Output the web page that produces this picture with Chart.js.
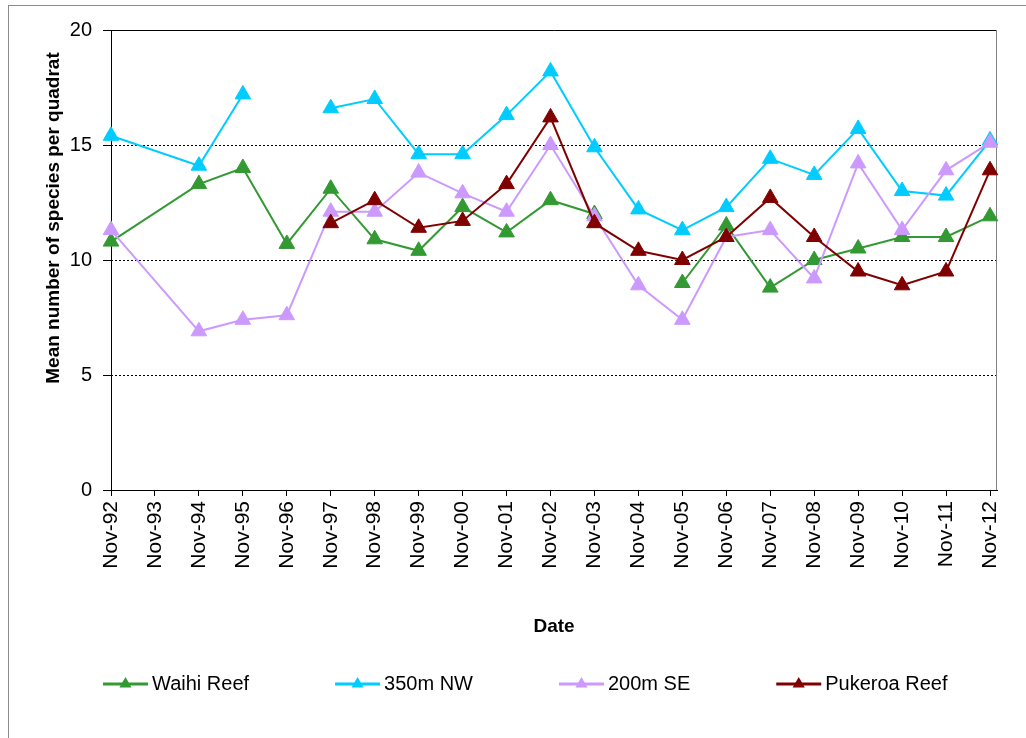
<!DOCTYPE html>
<html>
<head>
<meta charset="utf-8">
<script src="https://cdn.jsdelivr.net/npm/chart.js@4.4.1/dist/chart.umd.min.js"></script>
<style>
  html, body { margin: 0; padding: 0; background: #fff; }
  #wrap { width: 1026px; height: 738px; position: relative; }
</style>
</head>
<body>
<div id="wrap"><canvas id="myChart"></canvas></div>
<script>
const labels = ["Nov-92", "Nov-93", "Nov-94", "Nov-95", "Nov-96", "Nov-97", "Nov-98",
  "Nov-99", "Nov-00", "Nov-01", "Nov-02", "Nov-03", "Nov-04", "Nov-05", "Nov-06",
  "Nov-07", "Nov-08", "Nov-09", "Nov-10", "Nov-11", "Nov-12"];
// no survey that year, so the lines run straight through it
const notSurveyed = ["Nov-93"];

const waihi = [10.8, null, 13.3, 14.0, 10.7, 13.1, 10.9, 10.4, 12.3, 11.2, 12.6, 12.0, null, 9.0, 11.5, 8.8, 10.0, 10.5, 11.0, 11.0, 11.9];
const nw350 = [15.4, null, 14.1, 17.2, null, 16.6, 17.0, 14.6, 14.6, 16.3, 18.2, 14.9, 12.2, 11.3, 12.3, 14.4, 13.7, 15.7, 13.0, 12.8, 15.2];
const se200 = [11.3, null, 6.9, 7.4, 7.6, 12.1, 12.1, 13.8, 12.9, 12.1, 15.0, 11.9, 8.9, 7.4, 11.0, 11.3, 9.2, 14.2, 11.3, 13.9, 15.1];
const pukeroa = [null, null, null, null, null, 11.6, 12.6, 11.4, 11.7, 13.3, 16.2, 11.6, 10.4, 10.0, 11.0, 12.7, 11.0, 9.5, 8.9, 9.5, 13.9];

const yTicks = [0, 5, 10, 15, 20];

function points(vals) {
  return labels.map((l, i) => ({ x: i, y: vals[i] }))
    .filter(p => !notSurveyed.includes(labels[p.x]));
}

function series(label, vals, color, order) {
  return {
    label: label,
    data: points(vals),
    borderColor: color,
    backgroundColor: color,
    borderWidth: 2,
    pointStyle: "triangle",
    pointRadius: 9,
    pointBorderWidth: 1,
    pointHoverRadius: 9,
    spanGaps: false,
    clip: false,
    order: order
  };
}

const FONT = "'Liberation Sans', Arial, sans-serif";
Chart.defaults.font.family = FONT;
Chart.defaults.color = "#000";

// frame, y title and the Excel-style legend
const frame = {
  id: "frame",
  beforeDatasetsDraw(chart) {
    const { ctx, chartArea: a } = chart;
    ctx.save();
    ctx.lineWidth = 1;
    ctx.strokeStyle = "#000";
    ctx.beginPath();
    ctx.moveTo(Math.round(a.left) + 0.5, a.bottom);
    ctx.lineTo(Math.round(a.left) + 0.5, Math.round(a.top) + 0.5);
    ctx.lineTo(a.right, Math.round(a.top) + 0.5);
    ctx.stroke();
    ctx.strokeStyle = "#808080";
    ctx.beginPath();
    ctx.moveTo(Math.round(a.right) - 0.5, a.top);
    ctx.lineTo(Math.round(a.right) - 0.5, a.bottom);
    ctx.stroke();
    ctx.restore();
  },
  afterDraw(chart) {
    const ctx = chart.ctx;
    ctx.save();
    ctx.strokeStyle = "#8c8c8c";
    ctx.lineWidth = 1;
    ctx.strokeRect(8.5, 5.5, chart.width, chart.height);

    ctx.fillStyle = "#000";
    ctx.font = "bold 19px " + FONT;
    ctx.textAlign = "center";
    ctx.textBaseline = "middle";
    ctx.translate(54, 218);
    ctx.rotate(-Math.PI / 2);
    ctx.fillText("Mean number of species per quadrat", 0, 0);
    ctx.restore();

    ctx.save();
    ctx.font = "20px " + FONT;
    ctx.textBaseline = "middle";
    let x = 103;
    const y = 684;
    chart.data.datasets.forEach(ds => {
      ctx.strokeStyle = ds.borderColor;
      ctx.fillStyle = ds.borderColor;
      ctx.lineWidth = 3;
      ctx.beginPath();
      ctx.moveTo(x, y);
      ctx.lineTo(x + 45, y);
      ctx.stroke();
      const cx = x + 22.5, r = 7;
      ctx.beginPath();
      ctx.moveTo(cx, y - r);
      ctx.lineTo(cx + r * 0.866, y + r * 0.5);
      ctx.lineTo(cx - r * 0.866, y + r * 0.5);
      ctx.closePath();
      ctx.fill();
      ctx.fillStyle = "#000";
      ctx.fillText(ds.label, x + 49, y);
      x += 49 + ctx.measureText(ds.label).width + 86;
    });
    ctx.restore();
  }
};

const ctx = document.getElementById("myChart").getContext("2d");

new Chart(ctx, {
  type: "line",
  data: {
    datasets: [
      series("Waihi Reef", waihi, "#339933", 3),
      series("350m NW", nw350, "#00ccff", 2),
      series("200m SE", se200, "#cc99ff", 1),
      series("Pukeroa Reef", pukeroa, "#800000", 0)
    ]
  },
  options: {
    responsive: true,
    maintainAspectRatio: false,
    animation: false,
    layout: { padding: { left: 0, top: 30, right: 29, bottom: 98 } },
    plugins: {
      legend: { display: false },
      tooltip: { enabled: false }
    },
    scales: {
      x: {
        type: "linear",
        min: 0,
        max: 20 + 7 / 44,
        afterFit: s => { s.height = 150; },
        ticks: {
          stepSize: 1,
          includeBounds: false,
          autoSkip: false,
          minRotation: 90,
          maxRotation: 90,
          padding: 5,
          font: { size: 21 },
          callback: v => labels[v]
        },
        grid: { drawOnChartArea: false, tickLength: 6, tickColor: "#000" },
        border: { color: "#000" },
        title: {
          display: true,
          text: "Date",
          font: { size: 19, weight: "bold" },
          padding: { top: 0, bottom: 2 }
        }
      },
      y: {
        min: 0,
        max: 20,
        afterFit: s => { s.width = 111; },
        afterBuildTicks: s => { s.ticks = yTicks.map(v => ({ value: v })); },
        ticks: { padding: 11, font: { size: 20 } },
        grid: {
          color: c => (c.tick && c.tick.value === 0 ? "rgba(0,0,0,0)" : "#000"),
          lineWidth: 1,
          tickLength: 8,
          tickColor: "#000"
        },
        border: { display: false, dash: [2, 2] }
      }
    }
  },
  plugins: [frame]
});
</script>
</body>
</html>
